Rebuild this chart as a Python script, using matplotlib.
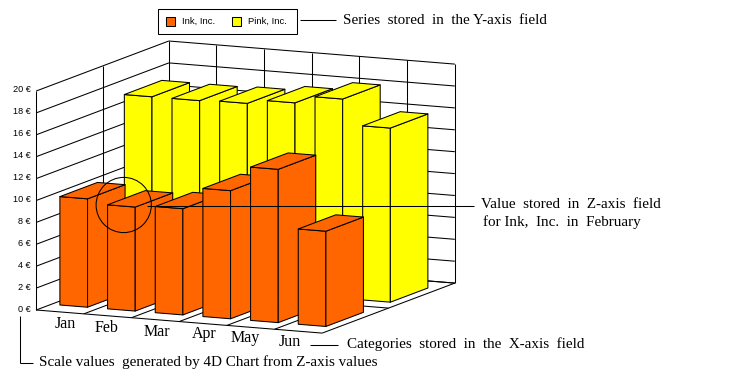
import matplotlib
matplotlib.use('Agg')
import matplotlib.pyplot as plt
from matplotlib.patches import Polygon, Circle, Rectangle

categories = ['Jan', 'Feb', 'Mar', 'Apr', 'May', 'Jun']
ink_values = [9.9, 9.5, 9.7, 11.7, 14.0, 8.7]
pink_values = [17.0, 17.0, 17.1, 17.5, 18.2, 15.9]
z_ticks = [0, 2, 4, 6, 8, 10, 12, 14, 16, 18, 20]

INK = '#FF6600'
PINK = '#FFFF00'
LW = 0.75


# oblique projection, category / depth / value to pixels
def project(x, d, z):
    return (36.2 + x * 47.67 + d * 132.6, 310 + x * 3.85 - d * 50 - z * 10.95)


def draw_line(ax, p0, p1, lw=LW, zorder=1):
    ax.plot([p0[0], p1[0]], [p0[1], p1[1]], color='black', lw=lw, zorder=zorder,
            solid_capstyle='butt')


def draw_bar(ax, i, value, d0, color, zorder):
    x0, x1 = i + 0.18, i + 0.76
    d1 = d0 + 0.283
    front = [project(x0, d0, 0), project(x1, d0, 0), project(x1, d0, value), project(x0, d0, value)]
    side = [project(x1, d0, 0), project(x1, d1, 0), project(x1, d1, value), project(x1, d0, value)]
    top = [project(x0, d0, value), project(x1, d0, value), project(x1, d1, value), project(x0, d1, value)]
    for face in (front, side, top):
        ax.add_patch(Polygon(face, closed=True, facecolor=color, edgecolor='black', lw=LW,
                             joinstyle='round', zorder=zorder))


fig = plt.figure(figsize=(7.41, 3.79), dpi=100)
ax = fig.add_axes([0, 0, 1, 1])
ax.set_xlim(0, 741)
ax.set_ylim(379, 0)
ax.axis('off')

# walls and floor
for z in z_ticks:
    draw_line(ax, project(0, 0, z), project(0, 1, z))
    draw_line(ax, project(0, 1, z), project(6, 1, z))
    ax.text(31, project(0, 0, z)[1] - 1, '{} €'.format(z), ha='right', va='center',
            fontsize=6.6, family='Liberation Sans')
for d in (0, 0.5, 1):
    draw_line(ax, project(0, d, 0), project(0, d, 20))
    draw_line(ax, project(0, d, 0), project(6, d, 0))
for i in range(1, 7):
    draw_line(ax, project(i, 0, 0), project(i, 1, 0))
    draw_line(ax, project(i, 1, 0), project(i, 1, 20))

for i in range(len(categories)):
    draw_bar(ax, i, pink_values[i], 0.60, PINK, 2 + i * 0.01)
for i in range(len(categories)):
    draw_bar(ax, i, ink_values[i], 0.114, INK, 3 + i * 0.01)

# category labels
label_pos = [(65, 324.5), (107, 328.5), (157, 331.5), (204, 334.5), (245, 338.5), (290, 341.5)]
for name, pos in zip(categories, label_pos):
    ax.text(pos[0], pos[1], name, ha='center', va='center', fontsize=11.5,
            family='Liberation Serif')

# legend
ax.add_patch(Rectangle((157.5, 8.5), 139, 25, facecolor='white', edgecolor='black', lw=LW, zorder=4))
for x, color, name, tx in ((165.5, INK, 'Ink, Inc.', 182.5), (231.5, PINK, 'Pink, Inc.', 248.5)):
    ax.add_patch(Rectangle((x, 16.5), 9, 9, facecolor=color, edgecolor='black', lw=LW, zorder=5))
    ax.text(tx, 21.5, name, ha='left', va='center', fontsize=6.8, family='Liberation Sans', zorder=5)

# callouts
ax.add_patch(Circle((123.7, 205), 27.6, fill=False, edgecolor='black', lw=LW, zorder=6))
draw_line(ax, (300, 20), (336, 20), zorder=6)
draw_line(ax, (147, 206), (474, 206), zorder=6)
draw_line(ax, (310, 344.5), (338, 344.5), zorder=6)
draw_line(ax, (20, 316), (20, 363), zorder=6)
draw_line(ax, (20, 363), (33, 363), zorder=6)

notes = [(343, 20, 'Series  stored  in  the Y-axis  field'),
         (481, 204, 'Value  stored  in  Z-axis  field'),
         (483, 222, 'for Ink,  Inc.  in  February'),
         (347, 344, 'Categories  stored  in  the  X-axis  field'),
         (39, 362, 'Scale values  generated by 4D Chart from Z-axis values')]
for x, y, txt in notes:
    ax.text(x, y, txt, ha='left', va='center', fontsize=10.9, family='Liberation Serif')

fig.savefig('out.png', dpi=100)
